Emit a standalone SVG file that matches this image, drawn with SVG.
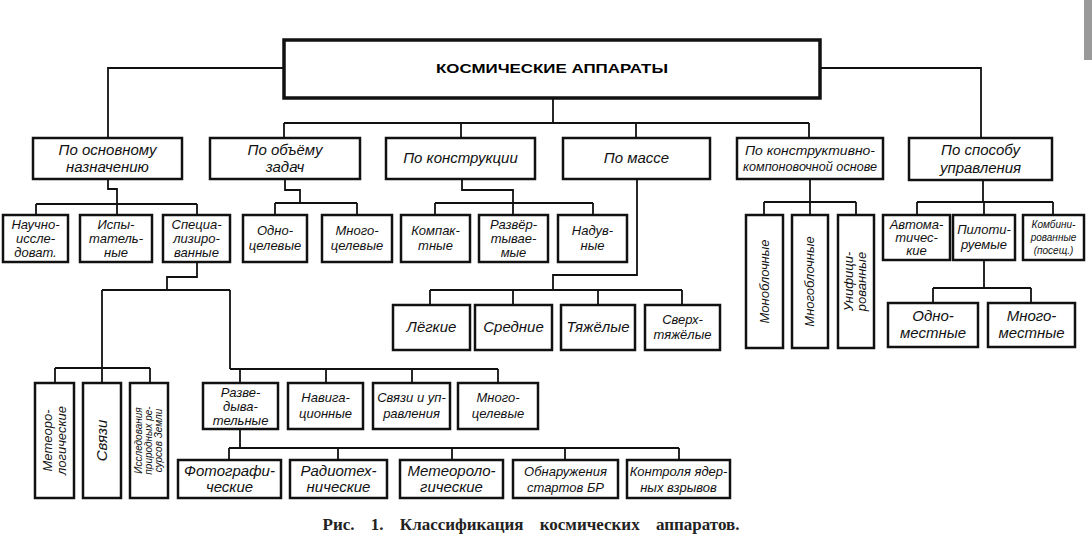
<svg xmlns="http://www.w3.org/2000/svg" width="1092" height="547" viewBox="0 0 1092 547">
<style>
.b{fill:#fff;stroke:#111;stroke-width:2.5}
.t{font-family:"Liberation Sans","DejaVu Sans",sans-serif;font-style:italic;font-size:15px;text-anchor:middle;fill:#111}
.s{font-size:13px}
.xs{font-size:10px}
.c{fill:none;stroke:#111;stroke-width:1.8}
</style>
<rect x="1084" y="0" width="8" height="60" fill="#9a9a9a"/>
<g id="connectors" class="c">
<path d="M284,68 H108 V138"/>
<path d="M820,68 H981 V138"/>
<path d="M553,98 V123 M284,123 H809 M284,123 V138 M461,123 V138 M636,123 V138 M809,123 V138"/>
<path d="M108,179 V189 H117 V204 M36,204 H197 M36,204 V215 M117,204 V215 M197,204 V215"/>
<path d="M285,179 V190 H300 V203 M275,203 H357 M275,203 V215 M357,203 V215"/>
<path d="M462,179 V190 H513 V203 M435,203 H593 M435,203 V215 M513,203 V215 M593,203 V215"/>
<path d="M637,179 V275 H553 V290 M430,290 H682 M430,290 V305 M513,290 V305 M598,290 V305 M682,290 V305"/>
<path d="M810,179 V202 M764,202 H856 M764,202 V215 M810,202 V215 M856,202 V215"/>
<path d="M983,180 V202 M917,202 H1053 M917,202 V215 M984,202 V215 M1053,202 V215"/>
<path d="M984,260 V288 M933,288 H1031 M933,288 V303 M1031,288 V303"/>
<path d="M197,262 V277 H167 V290 M102,290 H230 M102,290 V383 M230,290 V369 M55,368 H150 M55,368 V383 M150,368 V383 M230,369 H498 M240,369 V383 M326,369 V383 M412,369 V383 M498,369 V383"/>
<path d="M240,429 V448 M229,448 H679 M229,448 V460 M338,448 V460 M452,448 V460 M565,448 V460 M679,448 V460"/>
</g>
<g id="root"><rect x="284" y="40" width="536" height="58" fill="#fff" stroke="#111" stroke-width="3.5"/>
<text x="552" y="73" font-family="'Liberation Sans','DejaVu Sans',sans-serif" font-weight="bold" font-size="13" text-anchor="middle" textLength="232" lengthAdjust="spacingAndGlyphs">КОСМИЧЕСКИЕ АППАРАТЫ</text></g>
<g id="n-naznach"><rect class="b" x="33" y="138" width="149" height="41"/><text class="t" x="107.5" y="155">По основному</text><text class="t" x="107.5" y="172">назначению</text></g>
<g id="n-zadach"><rect class="b" x="210" y="138" width="150" height="41"/><text class="t" x="285" y="155">По объёму</text><text class="t" x="285" y="172">задач</text></g>
<g id="n-konstr"><rect class="b" x="386" y="138" width="149" height="41"/><text class="t" x="460.5" y="163">По конструкции</text></g>
<g id="n-massa"><rect class="b" x="563" y="138" width="147" height="41"/><text class="t" x="636.5" y="163">По массе</text></g>
<g id="n-kompon"><rect class="b" x="737" y="138" width="146" height="41"/><text class="t s" x="810" y="155" textLength="130" lengthAdjust="spacingAndGlyphs">По конструктивно-</text><text class="t s" x="810" y="171" textLength="134" lengthAdjust="spacingAndGlyphs">компоновочной основе</text></g>
<g id="n-upravl"><rect class="b" x="909" y="138" width="143" height="42"/><text class="t" x="980.5" y="155">По способу</text><text class="t" x="980.5" y="173">управления</text></g>
<g id="n-nauchno"><rect class="b" x="3" y="215" width="65" height="47"/><text class="t s" x="35.5" y="229">Научно-</text><text class="t s" x="35.5" y="243">иссле-</text><text class="t s" x="35.5" y="257">доват.</text></g>
<g id="n-ispyt"><rect class="b" x="80" y="215" width="72" height="47"/><text class="t s" x="116" y="229">Испы-</text><text class="t s" x="116" y="243">татель-</text><text class="t s" x="116" y="257">ные</text></g>
<g id="n-spec"><rect class="b" x="163" y="215" width="67" height="47"/><text class="t s" x="196.5" y="229">Специа-</text><text class="t s" x="196.5" y="243">лизиро-</text><text class="t s" x="196.5" y="257">ванные</text></g>
<g id="n-odnocel"><rect class="b" x="243" y="215" width="64" height="47"/><text class="t s" x="275" y="235">Одно-</text><text class="t s" x="275" y="250">целевые</text></g>
<g id="n-mnogocel"><rect class="b" x="322" y="215" width="70" height="47"/><text class="t s" x="357" y="235">Много-</text><text class="t s" x="357" y="250">целевые</text></g>
<g id="n-kompakt"><rect class="b" x="401" y="215" width="69" height="47"/><text class="t s" x="435.5" y="235">Компак-</text><text class="t s" x="435.5" y="250">тные</text></g>
<g id="n-razvert"><rect class="b" x="479" y="215" width="69" height="47"/><text class="t s" x="513.5" y="229">Развёр-</text><text class="t s" x="513.5" y="243">тывае-</text><text class="t s" x="513.5" y="257">мые</text></g>
<g id="n-naduv"><rect class="b" x="558" y="215" width="69" height="47"/><text class="t s" x="592.5" y="235">Надув-</text><text class="t s" x="592.5" y="250">ные</text></g>
<g id="n-monobl"><rect class="b" x="746" y="215" width="37" height="133"/><text class="t s" transform="translate(764.5,281.5) rotate(-90)" x="0" y="4">Моноблочные</text></g>
<g id="n-mnogobl"><rect class="b" x="792" y="215" width="36" height="133"/><text class="t s" transform="translate(810,281.5) rotate(-90)" x="0" y="4">Многоблочные</text></g>
<g id="n-unif"><rect class="b" x="838" y="215" width="36" height="133"/><text class="t s" transform="translate(856,281.5) rotate(-90)" x="0" y="-3">Унифици-</text><text class="t s" transform="translate(856,281.5) rotate(-90)" x="0" y="10">рованные</text></g>
<g id="n-avtomat"><rect class="b" x="883" y="215" width="67" height="45"/><text class="t s" x="916.5" y="229">Автома-</text><text class="t s" x="916.5" y="242">тичес-</text><text class="t s" x="916.5" y="255">кие</text></g>
<g id="n-pilot"><rect class="b" x="953" y="215" width="62" height="45"/><text class="t s" x="984" y="234">Пилоти-</text><text class="t s" x="984" y="249">руемые</text></g>
<g id="n-kombin"><rect class="b" x="1023" y="215" width="61" height="45"/><text class="t xs" x="1053.5" y="228">Комбини-</text><text class="t xs" x="1053.5" y="241">рованные</text><text class="t xs" x="1053.5" y="254">(посещ.)</text></g>
<g id="n-legkie"><rect class="b" x="393" y="305" width="77" height="45"/><text class="t" x="431.5" y="332">Лёгкие</text></g>
<g id="n-srednie"><rect class="b" x="475" y="305" width="77" height="45"/><text class="t" x="513.5" y="332">Средние</text></g>
<g id="n-tyazh"><rect class="b" x="561" y="305" width="74" height="45"/><text class="t" x="598" y="332">Тяжёлые</text></g>
<g id="n-sverh"><rect class="b" x="645" y="305" width="75" height="45"/><text class="t s" x="682.5" y="324">Сверх-</text><text class="t s" x="682.5" y="339">тяжёлые</text></g>
<g id="n-odnomest"><rect class="b" x="888" y="303" width="90" height="44"/><text class="t" x="933" y="321">Одно-</text><text class="t" x="933" y="338">местные</text></g>
<g id="n-mnogomest"><rect class="b" x="988" y="303" width="87" height="44"/><text class="t" x="1031.5" y="321">Много-</text><text class="t" x="1031.5" y="338">местные</text></g>
<g id="n-meteo1"><rect class="b" x="35" y="383" width="39" height="115"/><text class="t s" transform="translate(54.5,440.5) rotate(-90)" x="0" y="-3">Метеоро-</text><text class="t s" transform="translate(54.5,440.5) rotate(-90)" x="0" y="11">логические</text></g>
<g id="n-svyazi"><rect class="b" x="83" y="383" width="38" height="115"/><text class="t" transform="translate(102,440.5) rotate(-90)" x="0" y="5">Связи</text></g>
<g id="n-issled"><rect class="b" x="130" y="383" width="38" height="115"/><text class="t xs" transform="translate(149,440.5) rotate(-90)" x="0" y="-7">Исследования</text><text class="t xs" transform="translate(149,440.5) rotate(-90)" x="0" y="3">природных ре-</text><text class="t xs" transform="translate(149,440.5) rotate(-90)" x="0" y="13">сурсов Земли</text></g>
<g id="n-razved"><rect class="b" x="203" y="383" width="75" height="46"/><text class="t s" x="240.5" y="397">Разве-</text><text class="t s" x="240.5" y="411">дыва-</text><text class="t s" x="240.5" y="425">тельные</text></g>
<g id="n-navig"><rect class="b" x="288" y="383" width="75" height="46"/><text class="t s" x="325.5" y="402">Навига-</text><text class="t s" x="325.5" y="418">ционные</text></g>
<g id="n-svupr"><rect class="b" x="373" y="383" width="77" height="46"/><text class="t s" x="411.5" y="402">Связи и уп-</text><text class="t s" x="411.5" y="418">равления</text></g>
<g id="n-mnogocel2"><rect class="b" x="458" y="383" width="80" height="46"/><text class="t s" x="498" y="402">Много-</text><text class="t s" x="498" y="418">целевые</text></g>
<g id="n-foto"><rect class="b" x="178" y="460" width="103" height="38"/><text class="t" x="229.5" y="476">Фотографи-</text><text class="t" x="229.5" y="492">ческие</text></g>
<g id="n-radio"><rect class="b" x="290" y="460" width="97" height="38"/><text class="t" x="338.5" y="476">Радиотех-</text><text class="t" x="338.5" y="492">нические</text></g>
<g id="n-meteo2"><rect class="b" x="400" y="460" width="103" height="38"/><text class="t" x="451.5" y="476">Метеороло-</text><text class="t" x="451.5" y="492">гические</text></g>
<g id="n-obnar"><rect class="b" x="513" y="460" width="105" height="38"/><text class="t s" x="565.5" y="476">Обнаружения</text><text class="t s" x="565.5" y="492">стартов БР</text></g>
<g id="n-kontrol"><rect class="b" x="627" y="460" width="103" height="38"/><text class="t s" x="678.5" y="476">Контроля ядер-</text><text class="t s" x="678.5" y="492">ных взрывов</text></g>
<text x="531" y="530" font-family="'Liberation Serif','DejaVu Serif',serif" font-weight="bold" font-size="17" text-anchor="middle" fill="#222" word-spacing="12">Рис. 1. Классификация космических аппаратов.</text>
</svg>
